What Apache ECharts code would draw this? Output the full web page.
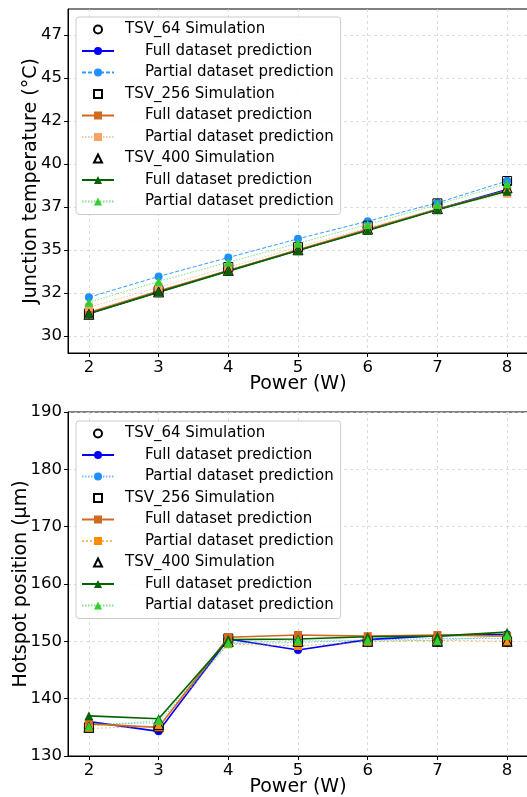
<!DOCTYPE html>
<html>
<head>
<meta charset="utf-8">
<title>TSV prediction</title>
<script src="https://cdn.jsdelivr.net/npm/echarts@6/dist/echarts.min.js"></script>
<style>
  html, body { margin: 0; padding: 0; background: #fff; }
  #chart { width: 527px; height: 797px; }
</style>
</head>
<body>
<div id="chart"></div>
<script>
// x values (W) and tick labels
const powerW = [2, 3, 4, 5, 6, 7, 8];
const powerTicks = [2, 3, 4, 5, 6, 7, 8];
const tempTicks = [30, 32.5, 35, 37.5, 40, 42.5, 45, 47.5];
const hotTicks = [130, 140, 150, 160, 170, 180, 190];

// junction temperature (°C)
const simTemp64   = [31.3, 32.6, 33.9, 35.1, 36.3, 37.6, 38.95];
const fullTemp64  = [31.3, 32.55, 33.78, 34.98, 36.15, 37.35, 38.5];
const partTemp64  = [32.24, 33.45, 34.55, 35.64, 36.66, 37.73, 39.0];
const simTemp256  = [31.3, 32.6, 34.0, 35.15, 36.4, 37.7, 39.0];
const fullTemp256 = [31.35, 32.6, 33.8, 35.0, 36.2, 37.35, 38.45];
const partTemp256 = [31.66, 32.83, 33.99, 35.15, 36.28, 37.38, 38.26];
const simTemp400  = [31.25, 32.55, 33.8, 35.0, 36.2, 37.4, 38.6];
const fullTemp400 = [31.28, 32.54, 33.76, 34.96, 36.12, 37.33, 38.41];
const partTemp400 = [31.95, 33.16, 34.28, 35.38, 36.47, 37.63, 38.84];

// hotspot position (µm)
const simHot64   = [135, 135, 150.3, 150, 150, 150, 150];
const fullHot64  = [136.0, 134.3, 150.4, 148.5, 150.3, 151.0, 151.2];
const partHot64  = [135.5, 135.8, 149.6, 149.8, 150.2, 150.5, 150.5];
const simHot256  = [135, 135, 150.5, 150.2, 150, 150, 150];
const fullHot256 = [135.6, 135.0, 150.7, 151.1, 150.9, 151.1, 150.9];
const partHot256 = [134.8, 135.2, 149.5, 149.2, 149.9, 150.2, 150.0];
const simHot400  = [135, 135.5, 150, 150, 150, 150, 150];
const fullHot400 = [137.0, 136.5, 150.3, 150.4, 150.8, 150.9, 151.6];
const partHot400 = [135.2, 136.2, 149.7, 150.2, 150.2, 150.1, 151.0];

const FONT = 'DejaVu Sans';

function pts(ys) {
    return powerW.map((x, i) => [x, ys[i]]);
}

const legendText = {};

// open markers, no connecting line
function simSeries(name, label, symbol, ys, idx) {
    legendText[name] = '{h| }' + label;
    return {
        name: name, type: 'line', xAxisIndex: idx, yAxisIndex: idx,
        symbol: symbol, symbolSize: symbol === 'triangle' ? 10 : 9,
        showSymbol: true,
        itemStyle: { color: 'rgba(0,0,0,0)', borderColor: '#000', borderWidth: 1 },
        lineStyle: { width: 0, opacity: 0 },
        data: pts(ys)
    };
}

function predSeries(name, label, symbol, color, width, dash, opacity, ys, idx) {
    legendText[name] = '{s| }' + label;
    return {
        name: name, type: 'line', xAxisIndex: idx, yAxisIndex: idx,
        symbol: symbol, symbolSize: symbol === 'triangle' ? 9 : 8,
        itemStyle: { color: color },
        lineStyle: { color: color, width: width, type: dash, opacity: opacity },
        data: pts(ys)
    };
}

const series = [
    simSeries('t_sim64', 'TSV_64 Simulation', 'circle', simTemp64, 0),
    predSeries('t_full64', 'Full dataset prediction', 'circle', '#0000ff', 1.6, 'solid', 1, fullTemp64, 0),
    predSeries('t_part64', 'Partial dataset prediction', 'circle', '#1e90ff', 1, [4, 2], 0.9, partTemp64, 0),
    simSeries('t_sim256', 'TSV_256 Simulation', 'rect', simTemp256, 0),
    predSeries('t_full256', 'Full dataset prediction', 'rect', '#d2691e', 1.6, 'solid', 1, fullTemp256, 0),
    predSeries('t_part256', 'Partial dataset prediction', 'rect', '#f4a460', 1, [1.5, 1.5], 0.6, partTemp256, 0),
    simSeries('t_sim400', 'TSV_400 Simulation', 'triangle', simTemp400, 0),
    predSeries('t_full400', 'Full dataset prediction', 'triangle', '#006400', 1.6, 'solid', 1, fullTemp400, 0),
    predSeries('t_part400', 'Partial dataset prediction', 'triangle', '#32cd32', 1, [1.5, 1.5], 0.6, partTemp400, 0),

    simSeries('h_sim64', 'TSV_64 Simulation', 'circle', simHot64, 1),
    predSeries('h_full64', 'Full dataset prediction', 'circle', '#0000ff', 1.6, 'solid', 1, fullHot64, 1),
    predSeries('h_part64', 'Partial dataset prediction', 'circle', '#1e90ff', 1, [1.5, 1.5], 0.6, partHot64, 1),
    simSeries('h_sim256', 'TSV_256 Simulation', 'rect', simHot256, 1),
    predSeries('h_full256', 'Full dataset prediction', 'rect', '#d2691e', 1.6, 'solid', 1, fullHot256, 1),
    predSeries('h_part256', 'Partial dataset prediction', 'rect', '#ff8c00', 1, [2, 2], 0.6, partHot256, 1),
    simSeries('h_sim400', 'TSV_400 Simulation', 'triangle', simHot400, 1),
    predSeries('h_full400', 'Full dataset prediction', 'triangle', '#006400', 1.6, 'solid', 1, fullHot400, 1),
    predSeries('h_part400', 'Partial dataset prediction', 'triangle', '#32cd32', 1, [1.5, 1.5], 0.6, partHot400, 1)
];

function xAxis(idx) {
    return {
        type: 'value', gridIndex: idx, min: 1.7, max: 8.3,
        name: 'Power (W)', nameLocation: 'middle', nameGap: 21.5, nameMoveOverlap: false,
        nameTextStyle: { fontFamily: FONT, fontSize: 19, color: '#000' },
        axisLine: { show: true, lineStyle: { color: '#000', width: 1 } },
        axisTick: { show: true, length: 4, customValues: powerTicks, lineStyle: { color: '#000' } },
        axisLabel: { customValues: powerTicks, margin: 6, fontFamily: FONT, fontSize: 16.5, color: '#000' },
        splitLine: { show: true, lineStyle: { color: '#d4d4d4', type: [3, 3], width: 0.8 } }
    };
}

function yAxis(idx, name, min, max, ticks, fmt, gap) {
    return {
        type: 'value', gridIndex: idx, min: min, max: max,
        name: name, nameLocation: 'middle', nameGap: gap, nameMoveOverlap: false,
        nameTextStyle: { fontFamily: FONT, fontSize: 19, color: '#000' },
        axisLine: { show: true, lineStyle: { color: '#000', width: 1 } },
        axisTick: { show: true, length: 4, customValues: ticks, lineStyle: { color: '#000' } },
        axisLabel: { customValues: ticks, margin: 6, fontFamily: FONT, fontSize: 16.5, color: '#000', formatter: fmt },
        splitLine: { show: true, lineStyle: { color: '#d4d4d4', type: [3, 3], width: 0.8 } }
    };
}

function legend(idx, top) {
    return {
        data: series.filter(s => s.xAxisIndex === idx).map(s => s.name),
        orient: 'vertical', left: 76, top: top,
        itemWidth: 32, itemHeight: 10, itemGap: 4.5,
        padding: [4, 7, 4.5, 5],
        backgroundColor: 'rgba(255,255,255,0.85)',
        borderColor: '#cccccc', borderWidth: 1, borderRadius: 3,
        selectedMode: false,
        formatter: name => legendText[name],
        textStyle: {
            fontFamily: FONT, fontSize: 15, color: '#000', lineHeight: 17,
            rich: {
                h: { width: 6, fontSize: 15, fontFamily: FONT },
                s: { width: 26, fontSize: 15, fontFamily: FONT }
            }
        }
    };
}

const gridBase = { left: 68, width: 460, height: 344, show: true, borderColor: '#000', borderWidth: 1, backgroundColor: 'transparent', outerBoundsMode: 'none', containLabel: false };

const option = {
    animation: false,
    backgroundColor: '#fff',
    grid: [
        Object.assign({ top: 9 }, gridBase),
        Object.assign({ top: 412 }, gridBase)
    ],
    xAxis: [xAxis(0), xAxis(1)],
    yAxis: [
        yAxis(0, 'Junction temperature (°C)', 29, 49, tempTicks, v => String(Math.trunc(v)), 27.5),
        yAxis(1, 'Hotspot position (μm)', 130, 190, hotTicks, v => String(v), 37.5)
    ],
    legend: [legend(0, 17), legend(1, 421)],
    series: series
};

const chart = echarts.init(document.getElementById('chart'), null, { renderer: 'canvas' });
chart.setOption(option);
</script>
</body>
</html>
